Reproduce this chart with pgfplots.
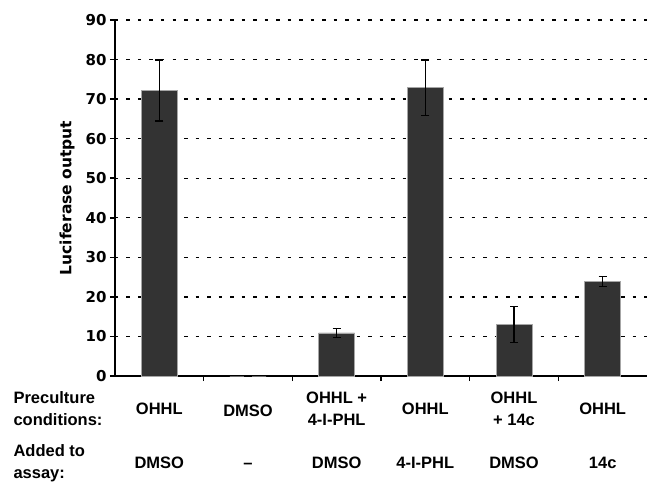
\documentclass[border=0pt]{standalone}
\usepackage{pgfplots}
\pgfplotsset{compat=1.18}
\usepackage{fontspec}
\setmainfont{Liberation Sans}
\newfontfamily\verd{DejaVu Sans}
\definecolor{barc}{HTML}{333333}
\newcommand{\lab}{\bfseries\fontsize{16.5}{22}\selectfont}
\newcommand{\tk}{\verd\bfseries\fontsize{15}{17}\selectfont}
\begin{document}
\begin{tikzpicture}
\begin{axis}[
  name=ax,
  scale only axis, width=532pt, height=356pt,
  xmin=0, xmax=6, ymin=0, ymax=90,
  axis x line*=bottom, axis y line*=left,
  axis line style={line width=1.6pt,-},
  ytick={0,10,...,90},
  xtick={1,...,5}, xticklabels={},
  ymajorgrids,
  grid style={black, line width=1.3pt, dash pattern=on 3.5pt off 8pt},
  major tick length=5pt, tick align=outside,
  tick style={line width=1.5pt, black},
  yticklabel style={font=\tk},
  /pgf/number format/assume math mode=true,
  clip=false,
]
\addplot[ybar, bar width=36pt, fill=barc, draw=gray!70, line width=0.6pt,
  error bars/.cd, y dir=both, y explicit,
  error bar style={black, line width=1.3pt},
  error mark options={rotate=90, mark size=4pt, black, line width=1.3pt}]
  table[x=x, y=y, y error=e] {
x y e
0.5 72.2 7.7
1.5 0 0
2.5 10.9 1.1
3.5 72.9 7.0
4.5 13.0 4.5
5.5 23.9 1.3
};
\node[rotate=90, font=\verd\bfseries\fontsize{15.5}{17}\selectfont] at ([xshift=-48pt]axis cs:0,45) {Luciferase output};
\node[anchor=west, align=left, font=\lab] at ([xshift=-105pt,yshift=-33pt]axis cs:0,0) {Preculture\\conditions:};
\node[anchor=west, align=left, font=\lab] at ([xshift=-105pt,yshift=-87pt]axis cs:0,0) {Added to\\assay:};
\node[font=\lab] at ([yshift=-33pt]axis cs:0.5,0) {OHHL};
\node[font=\lab] at ([yshift=-35pt]axis cs:1.5,0) {DMSO};
\node[font=\lab, align=center] at ([yshift=-33pt]axis cs:2.5,0) {OHHL +\\4-I-PHL};
\node[font=\lab] at ([yshift=-33pt]axis cs:3.5,0) {OHHL};
\node[font=\lab, align=center] at ([yshift=-33pt]axis cs:4.5,0) {OHHL\\+ 14c};
\node[font=\lab] at ([yshift=-33pt]axis cs:5.5,0) {OHHL};
\node[font=\lab] at ([yshift=-87pt]axis cs:0.5,0) {DMSO};
\node[font=\lab] at ([yshift=-87pt]axis cs:1.5,0) {\vphantom{D}--};
\node[font=\lab] at ([yshift=-87pt]axis cs:2.5,0) {DMSO};
\node[font=\lab] at ([yshift=-87pt]axis cs:3.5,0) {4-I-PHL};
\node[font=\lab] at ([yshift=-87pt]axis cs:4.5,0) {DMSO};
\node[font=\lab] at ([yshift=-87pt]axis cs:5.5,0) {14c};
\end{axis}
\pgfresetboundingbox
\path ([xshift=-115pt,yshift=-106pt]ax.south west) rectangle ([yshift=20pt]ax.north east);
\end{tikzpicture}
\end{document}
